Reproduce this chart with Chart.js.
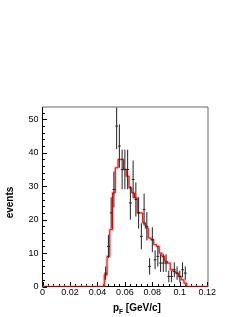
<!DOCTYPE html>
<html>
<head>
<meta charset="utf-8">
<script src="https://cdn.jsdelivr.net/npm/chart.js@4.4.1/dist/chart.umd.min.js"></script>
<style>
html,body{margin:0;padding:0;background:#fff;}
#wrap{width:245px;height:317px;position:relative;}
</style>
</head>
<body>
<div id="wrap"><canvas id="c" width="245" height="317"></canvas></div>
<script>
// measured data points (bin centres, GeV/c) and event counts
const pF = [0.046,0.048,0.050,0.052,0.054,0.056,0.058,0.060,0.062,0.064,
            0.066,0.068,0.070,0.072,0.074,0.076,0.078,0.080,0.082,0.084,
            0.086,0.088,0.090,0.092,0.094,0.096,0.098,0.100,0.102,0.104];
const events = [4,12,22,29,48,42,35,35,35,25,
                32,26,22,15,23,18,6,14,8,9,
                7,7,7,3,3,5,4,3,5,4];
// simulation histogram: lower bin edges and contents
const simEdges = [0.045,0.047,0.049,0.051,0.053,0.055,0.057,0.059,0.061,0.063,
                  0.065,0.067,0.069,0.071,0.073,0.075,0.077,0.079,0.081,0.083,
                  0.085,0.087,0.089,0.091,0.093,0.095,0.097,0.099,0.101,0.103,0.105];
const sim = [3.5,9,17,28,35.5,38,38,35,33,29.5,
             28,26.5,22,22,19,17.5,14.5,14,12.5,12,
             10,9,7.5,7,5,4.5,4,3,2,1];
const xTicks = [0,0.02,0.04,0.06,0.08,0.1,0.12];
const yTicks = [0,10,20,30,40,50];
const binHalf = 0.001;

// build datasets from the arrays
const histPts = [{x:0,y:0}];
for (let i=0;i<sim.length;i++) histPts.push({x:simEdges[i],y:sim[i]});
histPts.push({x:simEdges[sim.length],y:0});
histPts.push({x:0.1209,y:0});

const vErr = [], hErr = [];
for (let i=0;i<pF.length;i++){
  const e = Math.sqrt(events[i]);
  vErr.push({x:pF[i],y:events[i]-e},{x:pF[i],y:events[i]+e},{x:pF[i],y:null});
  hErr.push({x:pF[i]-binHalf,y:events[i]},{x:pF[i]+binHalf,y:events[i]},{x:pF[i],y:null});
}

const framePlugin = {
  id:'frame',
  beforeDatasetsDraw(chart){
    const {ctx, scales:{x,y}} = chart;
    ctx.save();
    ctx.strokeStyle='#666'; ctx.lineWidth=1;
    ctx.beginPath();
    ctx.moveTo(42.5,107); ctx.lineTo(208,107); ctx.lineTo(208,287);
    ctx.stroke();
    ctx.strokeStyle='#000';
    ctx.beginPath();
    ctx.moveTo(42.5,107); ctx.lineTo(42.5,286.5); ctx.lineTo(208,286.5);
    ctx.stroke();
    ctx.beginPath();
    for (let v=0; v<=y.max; v+=2){
      const p = Math.round(y.getPixelForValue(v))+0.5;
      const len = (Math.round(v)%10===0)?4.5:2.5;
      ctx.moveTo(42.5,p); ctx.lineTo(42.5+len,p);
    }
    for (let k=0; k<=30; k++){
      const v = k*0.004;
      const p = Math.round(x.getPixelForValue(v))+0.5;
      const len = (k%5===0)?4.5:2.5;
      ctx.moveTo(p,286.5); ctx.lineTo(p,286.5-len);
    }
    ctx.stroke();
    ctx.restore();
  },
  afterDraw(chart){
    const ctx = chart.ctx;
    ctx.save();
    ctx.fillStyle='#000';
    ctx.translate(10.5,202.5);
    ctx.rotate(-Math.PI/2);
    ctx.font='bold 10px "Liberation Sans", Arial, sans-serif';
    ctx.textAlign='center'; ctx.textBaseline='middle';
    ctx.fillText('events',0,0);
    ctx.restore();
    ctx.save();
    ctx.fillStyle='#000';
    ctx.textAlign='left'; ctx.textBaseline='alphabetic';
    let xx = 113;
    ctx.font='bold 10px "Liberation Sans", Arial, sans-serif';
    ctx.fillText('p',xx,311); xx += ctx.measureText('p').width;
    ctx.font='bold 6.5px "Liberation Sans", Arial, sans-serif';
    ctx.fillText('F',xx,313.5); xx += ctx.measureText('F').width;
    ctx.font='bold 10px "Liberation Sans", Arial, sans-serif';
    ctx.fillText(' [GeV/c]',xx,311);
    ctx.restore();
  }
};

const tickFont = {family:'"Liberation Sans", Arial, sans-serif', size:9};

new Chart(document.getElementById('c'),{
  type:'line',
  data:{datasets:[
    {data:hErr, borderColor:'#222', borderWidth:1, pointRadius:0, spanGaps:false, tension:0, fill:false, order:1},
    {data:vErr, borderColor:'#222', borderWidth:1, pointRadius:0, spanGaps:false, tension:0, fill:false, order:2},
    {data:histPts, stepped:'before', borderColor:'#e00000', borderWidth:1, pointRadius:0, tension:0, fill:false, order:3},
    {data:histPts, stepped:'before', borderColor:'rgba(255,140,140,0.45)', borderWidth:3, pointRadius:0, tension:0, fill:false, order:4}
  ]},
  options:{
    responsive:false, devicePixelRatio:1, animation:false,
    layout:{padding:{top:107.5,right:36.5,left:0,bottom:0}},
    plugins:{legend:{display:false}, tooltip:{enabled:false}},
    scales:{
      x:{type:'linear', min:0, max:0.1209,
         grid:{display:false, drawTicks:false}, border:{display:false},
         afterBuildTicks(s){ s.ticks = xTicks.map(v=>({value:v})); },
         afterFit(s){ s.height = 30.5; },
         ticks:{padding:1, font:tickFont, color:'#000', maxRotation:0, autoSkip:false,
                callback:v=>String(+v.toFixed(2))}},
      y:{type:'linear', min:0, max:53.53,
         grid:{display:false, drawTicks:false}, border:{display:false},
         afterBuildTicks(s){ s.ticks = yTicks.map(v=>({value:v})); },
         afterFit(s){ s.width = 42.5; },
         ticks:{padding:4, font:tickFont, color:'#000', autoSkip:false}}
    }
  },
  plugins:[framePlugin]
});
</script>
</body>
</html>
